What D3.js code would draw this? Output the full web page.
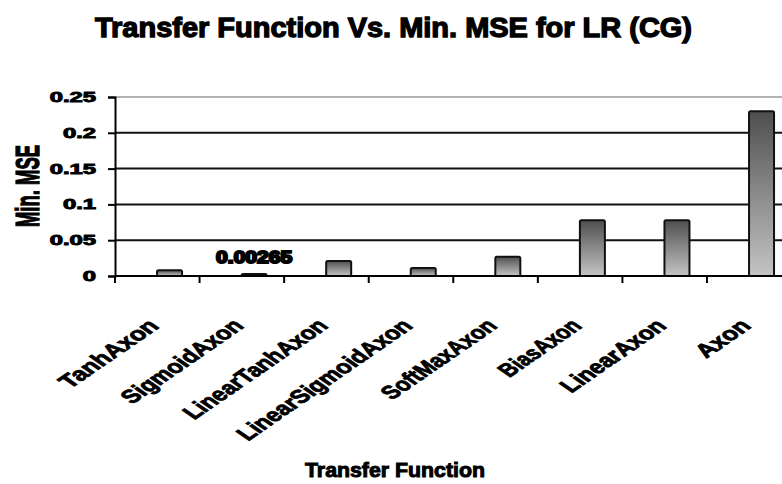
<!DOCTYPE html>
<html>
<head>
<meta charset="utf-8">
<script src="https://cdn.jsdelivr.net/npm/d3@7"></script>
<style>
  html, body { margin: 0; padding: 0; background: #fff; }
  svg { display: block; }
  text { font-family: "Liberation Sans", Arial, sans-serif; font-weight: bold; fill: #000; }
</style>
</head>
<body>
<svg id="chart" width="782" height="484"></svg>
<script>
// Transfer functions tested and the minimum MSE reached by each
const categories = ["TanhAxon", "SigmoidAxon", "LinearTanhAxon", "LinearSigmoidAxon",
                    "SoftMaxAxon", "BiasAxon", "LinearAxon", "Axon"];
const minMSE = [0.008, 0.00265, 0.021, 0.011, 0.027, 0.078, 0.078, 0.23];
const yTicks = [0, 0.05, 0.1, 0.15, 0.2, 0.25];
const yTickLabels = ["0", "0.05", "0.1", "0.15", "0.2", "0.25"];
// only this bar carries a value label
const labelledIndex = [1];

const svg = d3.select("#chart");

const plotLeft = 115, bandW = 84.57, plotTop = 97, plotBottom = 276, plotRight = 782;

const x = d3.scaleBand()
  .domain(categories)
  .range([plotLeft, plotLeft + bandW * categories.length])
  .padding(0);

const y = d3.scaleLinear().domain([0, 0.25]).range([plotBottom, plotTop]);

// squeeze/stretch text to a target width
function fitText(sel, factor) {
  sel.each(function () {
    const w = this.getComputedTextLength();
    d3.select(this).attr("textLength", w * factor).attr("lengthAdjust", "spacingAndGlyphs");
  });
}

// bar gradient: dark at top, light at bottom
const defs = svg.append("defs");
const grad = defs.append("linearGradient")
  .attr("id", "barGrad").attr("x1", 0).attr("y1", 0).attr("x2", 0).attr("y2", 1);
grad.append("stop").attr("offset", "0%").attr("stop-color", "#4e4e4e");
grad.append("stop").attr("offset", "50%").attr("stop-color", "#8a8a8a");
grad.append("stop").attr("offset", "100%").attr("stop-color", "#c4c4c4");

// Title
svg.append("text")
  .attr("x", 393.5).attr("y", 37)
  .attr("text-anchor", "middle")
  .attr("font-size", 27)
  .attr("stroke", "#000").attr("stroke-width", 1.3)
  .attr("textLength", 597).attr("lengthAdjust", "spacingAndGlyphs")
  .text("Transfer Function Vs. Min. MSE for LR (CG)");

// Horizontal gridlines
svg.append("g").selectAll("line")
  .data(yTicks.filter(t => t > 0))
  .join("line")
  .attr("x1", plotLeft).attr("x2", plotRight)
  .attr("y1", d => y(d)).attr("y2", d => y(d))
  .attr("stroke", d => d === 0.25 ? "#9a9a9a" : "#111")
  .attr("stroke-width", d => d === 0.25 ? 1.5 : 2);

// Y axis
const yAxis = svg.append("g")
  .attr("transform", `translate(${plotLeft},0)`)
  .call(d3.axisLeft(y).tickValues(yTicks)
    .tickFormat((d, i) => yTickLabels[i])
    .tickSize(7).tickPadding(12));
yAxis.select(".domain").attr("stroke", "#000").attr("stroke-width", 2);
yAxis.selectAll(".tick line").attr("stroke", "#000").attr("stroke-width", 2);
yAxis.selectAll(".tick text")
  .attr("font-size", 14)
  .attr("font-family", "'Liberation Sans', Arial, sans-serif")
  .attr("font-weight", "bold")
  .attr("fill", "#000")
  .attr("stroke", "#000").attr("stroke-width", 0.9)
  .call(fitText, 1.7);

// Bars
const barW = 25;
const barOffset = 0.645 * bandW;
svg.append("g").selectAll("rect")
  .data(categories)
  .join("rect")
  .attr("x", d => x(d) + barOffset - barW / 2)
  .attr("y", (d, i) => y(minMSE[i]))
  .attr("width", barW)
  .attr("height", (d, i) => Math.max(0, y(0) - y(minMSE[i])))
  .attr("rx", 1.5)
  .attr("fill", "url(#barGrad)")
  .attr("stroke", "#111")
  .attr("stroke-width", 2);

// Value label
svg.append("g").selectAll("text")
  .data(labelledIndex)
  .join("text")
  .attr("x", i => x(categories[i]) + barOffset)
  .attr("y", 263)
  .attr("text-anchor", "middle")
  .attr("font-size", 17)
  .attr("stroke", "#000").attr("stroke-width", 2)
  .attr("textLength", 76).attr("lengthAdjust", "spacingAndGlyphs")
  .text(i => String(minMSE[i]));

// X axis line and ticks at category boundaries
svg.append("line")
  .attr("x1", plotLeft).attr("x2", plotRight)
  .attr("y1", plotBottom).attr("y2", plotBottom)
  .attr("stroke", "#000").attr("stroke-width", 2);
svg.append("g").selectAll("line")
  .data(categories)
  .join("line")
  .attr("x1", d => x(d)).attr("x2", d => x(d))
  .attr("y1", plotBottom).attr("y2", plotBottom + 7)
  .attr("stroke", "#000").attr("stroke-width", 2);

// Category labels: 45° text, widened horizontally so the baseline runs at ~35°
const labelLen = [88, 110, 132, 162, 104, 72, 94, 45];
svg.append("g").selectAll("text")
  .data(categories)
  .join("text")
  .attr("text-anchor", "end")
  .attr("font-size", 19)
  .attr("stroke", "#000").attr("stroke-width", 0.8)
  .text(d => d)
  .each(function (d, i) {
    const w = this.getComputedTextLength();
    const sx = labelLen[i] / w;
    d3.select(this).attr("transform",
      `translate(${x(d) + bandW / 2 + 3},327) scale(1.45,1) rotate(-45) scale(${sx},1)`);
  });

// Axis titles
svg.append("text")
  .attr("transform", "translate(39,186) rotate(-90)")
  .attr("text-anchor", "middle")
  .attr("font-size", 33)
  .attr("stroke", "#000").attr("stroke-width", 1.3)
  .attr("textLength", 82).attr("lengthAdjust", "spacingAndGlyphs")
  .text("Min. MSE");

svg.append("text")
  .attr("x", 395).attr("y", 477)
  .attr("text-anchor", "middle")
  .attr("font-size", 21)
  .attr("stroke", "#000").attr("stroke-width", 1)
  .attr("textLength", 180).attr("lengthAdjust", "spacingAndGlyphs")
  .text("Transfer Function");
</script>
</body>
</html>
